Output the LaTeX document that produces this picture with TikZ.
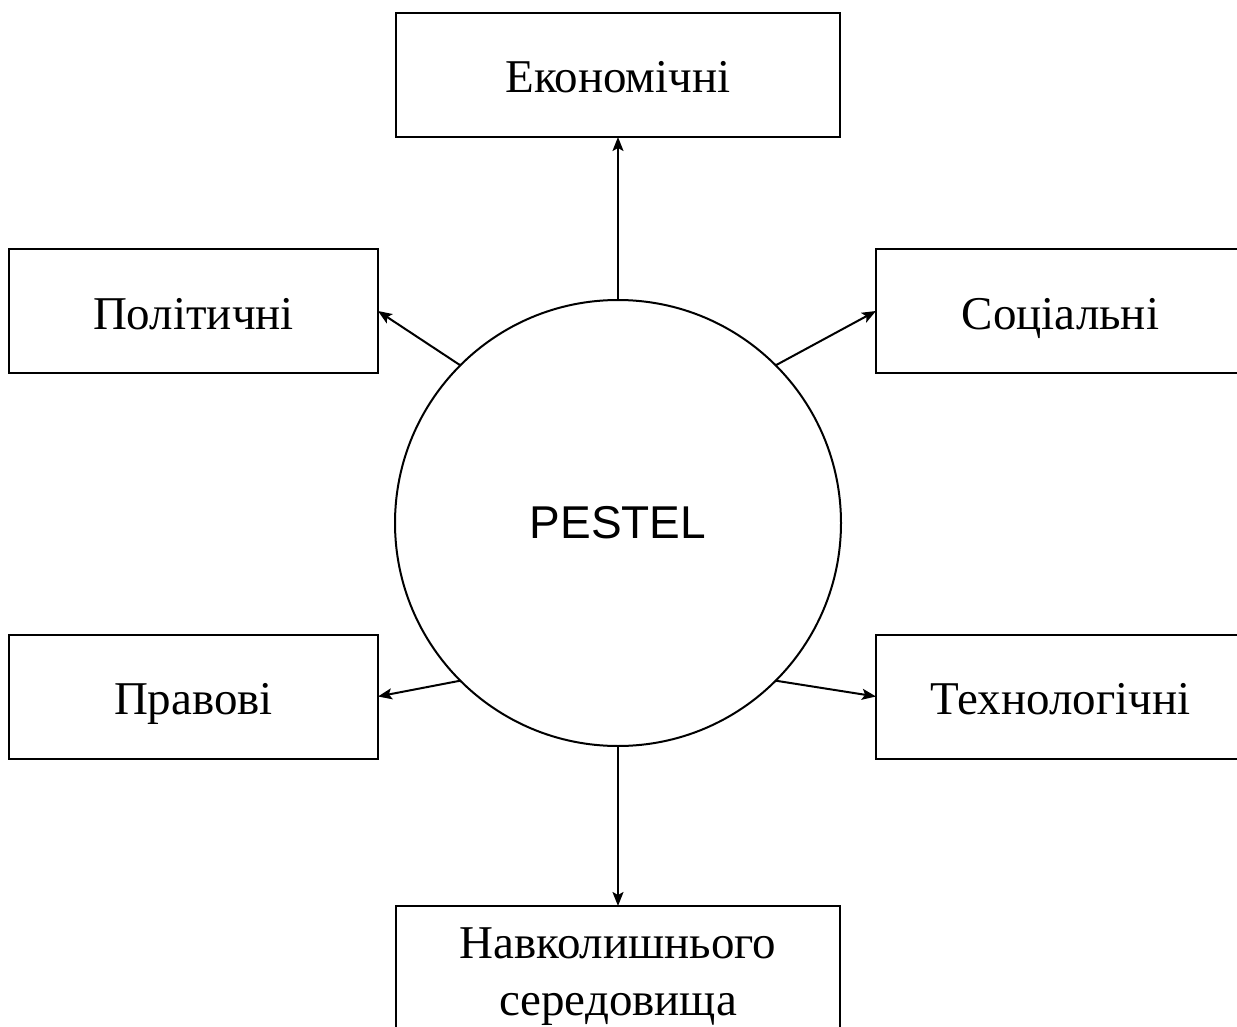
\documentclass[tikz,border=0pt]{standalone}
\usepackage{fontspec}
\setmainfont{Liberation Serif}
\newfontfamily\pestelfont{Liberation Sans}
\usetikzlibrary{arrows.meta, positioning}

\begin{document}
\begin{tikzpicture}[x=0.5pt,y=-0.5pt,>={Stealth[length=7pt,width=5.5pt,inset=1.5pt]},line width=1pt]
	
	\path [use as bounding box] (0,0) rectangle (1237,1027);
	\clip (0,0) rectangle (1237,1027);
	
	\tikzset{
		factor/.style = {draw, rectangle, line width=1pt, inner sep=0pt, outer sep=0pt, font=\fontsize{23.5}{28.5}\selectfont},
		widebox/.style = {factor, minimum width=222pt, minimum height=62pt, text height=20pt, text depth=2pt},
		sidebox/.style = {factor, minimum width=184.5pt, minimum height=62pt, text height=20pt, text depth=2pt}
	}
	
	\node (pestel) [draw, circle, line width=1pt, minimum size=223pt, inner sep=0pt, outer sep=0pt, font=\pestelfont\fontsize{23}{27}\selectfont] at (618,523) {PESTEL};
	
	\node (econ) [widebox] at (618,75) {Економічні};
	\node (polit) [sidebox] at (193.5,311) {Політичні};
	\node (social) [sidebox] at (1060.5,311) {Соціальні};
	\node (legal) [sidebox] at (193.5,696.5) {Правові};
	\node (tech) [sidebox] at (1060.5,696.5) {Технологічні};
	\node (env) [factor, minimum width=222pt, minimum height=71pt, align=center] at (618,977) {Навколишнього\\середовища};
	
	\path [->]
	(pestel.north) edge (econ.south)
	(pestel.135) edge (polit.east)
	(pestel.45) edge (social.west)
	(pestel.225) edge (legal.east)
	(pestel.-45) edge (tech.west)
	(pestel.south) edge (env.north);
	
\end{tikzpicture}
\end{document}
